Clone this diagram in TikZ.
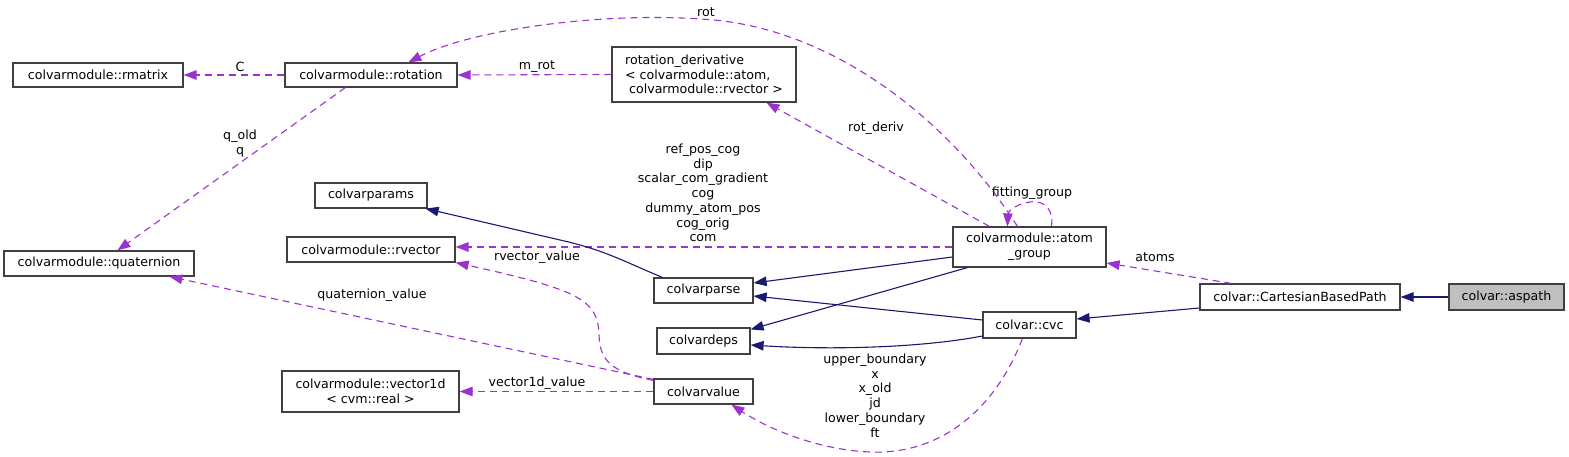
\documentclass[tikz,border=0pt]{standalone}
\usepackage{fontspec}
\setmainfont{DejaVu Sans}
\usetikzlibrary{arrows.meta,calc}
\definecolor{depc}{HTML}{9A32CD}
\definecolor{inhc}{HTML}{191970}
\definecolor{bord}{HTML}{404040}
\definecolor{selfc}{HTML}{BFBFBF}
\begin{document}
\begin{tikzpicture}[x=1pt,y=-1pt,
  font=\fontsize{12.6}{14.7}\selectfont,
  box/.style={draw=bord, line width=1.2pt, fill=white, inner sep=0pt, align=center},
  lbl/.style={inner sep=0pt, align=center},
  useedge/.style={draw=depc, line width=1.1pt, dash pattern=on 7pt off 5pt, -{Triangle[length=13pt,width=9.5pt]}},
  inhedge/.style={draw=inhc, line width=1.1pt, -{Triangle[length=13pt,width=9.5pt]}}]
\useasboundingbox (0,0) rectangle (1569,457);
% nodes
\node[box, minimum width=170pt, minimum height=24pt] (rmatrix) at (98,75) {colvarmodule::rmatrix};
\node[box, minimum width=172pt, minimum height=24pt] (rotation) at (371,75) {colvarmodule::rotation};
\node[box, minimum width=184pt, minimum height=55pt, align=left] (rotderiv) at (704,74.5) {rotation\_derivative\\< colvarmodule::atom,\\\hspace*{4pt}colvarmodule::rvector >};
\node[box, minimum width=112pt, minimum height=25pt] (params) at (371,195.5) {colvarparams};
\node[box, minimum width=168pt, minimum height=25pt] (rvector) at (371,249.5) {colvarmodule::rvector};
\node[box, minimum width=190pt, minimum height=25pt] (quaternion) at (99,263.5) {colvarmodule::quaternion};
\node[box, minimum width=177pt, minimum height=41pt] (vector1d) at (370.5,391.5) {colvarmodule::vector1d\\< cvm::real >};
\node[box, minimum width=153pt, minimum height=40pt] (atomgroup) at (1029.5,247) {colvarmodule::atom\\\_group};
\node[box, minimum width=99pt, minimum height=25pt] (parse) at (703.5,290.5) {colvarparse};
\node[box, minimum width=93pt, minimum height=26pt] (deps) at (703.5,341) {colvardeps};
\node[box, minimum width=99pt, minimum height=25pt] (value) at (703.5,391.5) {colvarvalue};
\node[box, minimum width=93pt, minimum height=26pt] (cvc) at (1029.5,325) {colvar::cvc};
\node[box, minimum width=200pt, minimum height=26pt] (cbp) at (1300,297) {colvar::CartesianBasedPath};
\node[box, fill=selfc, minimum width=115pt, minimum height=26pt] (aspath) at (1506.5,297) {colvar::aspath};
% edges
\draw[useedge] (rotation.west) -- (rmatrix.east);
\draw[useedge] (rotderiv.west) -- (rotation.east);
\draw[useedge] ($(atomgroup.north west)+(65,0)$) .. controls (950,120) and (830,25) .. (700,19) .. controls (600,12) and (470,30) .. ($(rotation.north west)+(124,0)$);
\draw[useedge] ($(atomgroup.north west)+(37,0)$) -- ($(rotderiv.south west)+(155,0)$);
\draw[useedge] ($(atomgroup.north west)+(99,0)$) .. controls (1054,210) and (1045,200) .. (1030,202) .. controls (1015,204) and (1008,212) .. ($(atomgroup.north west)+(55,0)$);
\draw[useedge] (atomgroup.west) -- (atomgroup.west -| rvector.east);
\draw[useedge] ($(rotation.south west)+(61,0)$) -- ($(quaternion.north west)+(114,0)$);
\draw[inhedge] ($(atomgroup.west)+(0,10)$) -- ($(parse.east)+(0,-7.5)$);
\draw[inhedge] ($(atomgroup.south west)+(15,0)$) -- ($(deps.north east)+(0,2)$);
\draw[inhedge] ($(parse.north west)+(9,0)$) .. controls (625,262) and (605,250) .. (560,240) -- ($(params.south east)+(-2,0)$);
\draw[inhedge] ($(cvc.west)+(0,-5)$) -- ($(parse.east)+(0,5.5)$);
\draw[inhedge] ($(cvc.west)+(0,11)$) .. controls (920,348) and (830,350) .. ($(deps.east)+(0,4)$);
\draw[inhedge] ($(cbp.west)+(0,11)$) -- ($(cvc.east)+(0,-6)$);
\draw[inhedge] (aspath.west) -- (cbp.east);
\draw[useedge] ($(cbp.north west)+(32,0)$) -- ($(atomgroup.east)+(0,16)$);
\draw[useedge] ($(cvc.south west)+(40,0)$) .. controls (995,410) and (940,455) .. (870,452) .. controls (820,450) and (770,430) .. ($(value.south west)+(78,0)$);
\draw[useedge] ($(value.north west)+(0,2)$) .. controls (610,372) and (600,360) .. (599,335) .. controls (598,300) and (580,290) .. (rvector.south east);
\draw[useedge] ($(value.north west)+(0,1)$) -- ($(quaternion.south west)+(166,0)$);
\draw[useedge] (value.west) -- (value.west -| vector1d.east);
% labels
\node[lbl] (lC) at (240,67) {C};
\node[lbl] (lmrot) at (537,67) {m\_rot};
\node[lbl] (lrot) at (706,12) {rot};
\node[lbl] (lrotderiv) at (876,128) {rot\_deriv};
\node[lbl] (lfit) at (1032,193) {fitting\_group};
\node[lbl] (lq) at (240,143.5) {q\_old\\q};
\node[lbl] (lref) at (703,193) {ref\_pos\_cog\\dip\\scalar\_com\_gradient\\cog\\dummy\_atom\_pos\\cog\_orig\\com};
\node[lbl] (lrv) at (537,257) {rvector\_value};
\node[lbl] (lqv) at (372,295) {quaternion\_value};
\node[lbl] (lv1d) at (537,383) {vector1d\_value};
\node[lbl] (latoms) at (1155,257) {atoms};
\node[lbl] (lub) at (875,395.5) {upper\_boundary\\x\\x\_old\\jd\\lower\_boundary\\ft};
\end{tikzpicture}
\end{document}
